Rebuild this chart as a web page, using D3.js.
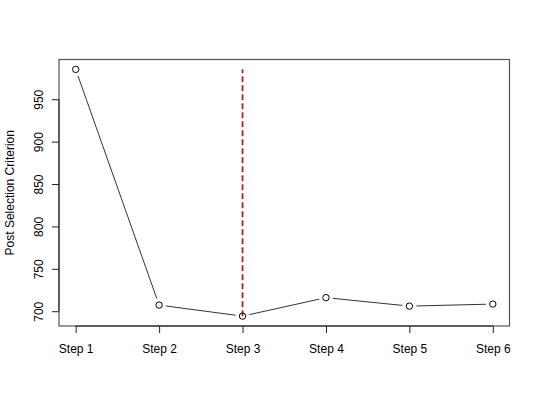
<!DOCTYPE html>
<html>
<head>
<meta charset="utf-8">
<script src="https://cdn.jsdelivr.net/npm/d3@7"></script>
<style>
  html, body { margin: 0; padding: 0; background: #fff; }
  svg { display: block; }
  text { font-family: "Liberation Sans", Arial, sans-serif; }
</style>
</head>
<body>
<svg id="chart" width="540" height="400"></svg>
<script>
const categories = ["Step 1", "Step 2", "Step 3", "Step 4", "Step 5", "Step 6"];
const values = [985.2, 707.2, 694.2, 716.0, 706.0, 708.4];
const yTicks = [700, 750, 800, 850, 900, 950];
const selectedStep = 3;
const yTitle = "Post Selection Criterion";

const svg = d3.select("#chart");
const plot = { left: 59, right: 509.5, top: 59.5, bottom: 326 };

const idx = d3.range(1, categories.length + 1);
const xPad = (idx.length - 1) * 0.04;
const x = d3.scaleLinear()
  .domain([1 - xPad, idx.length + xPad])
  .range([plot.left, plot.right]);

const yMin = d3.min(values), yMax = d3.max(values);
const yPad = (yMax - yMin) * 0.04;
const y = d3.scaleLinear()
  .domain([yMin - yPad, yMax + yPad])
  .range([plot.bottom, plot.top]);

const ink = "#222";

// Box
svg.append("rect")
  .attr("x", plot.left).attr("y", plot.top)
  .attr("width", plot.right - plot.left).attr("height", plot.bottom - plot.top)
  .attr("fill", "none").attr("stroke", "#555").attr("stroke-width", 1.2);

// Y axis
const yAxis = d3.axisLeft(y).tickValues(yTicks).tickSize(7).tickPadding(5);
const gy = svg.append("g").attr("transform", `translate(${plot.left},0)`).call(yAxis);
gy.select(".domain").attr("d", `M0,${y(yTicks[0])}V${y(yTicks[yTicks.length-1])}`).attr("stroke", ink);
gy.selectAll(".tick line").attr("stroke", ink);
gy.selectAll(".tick text")
  .attr("font-size", 12).attr("fill", "#000")
  .attr("x", null).attr("dy", null)
  .attr("text-anchor", "middle")
  .attr("transform", `translate(-16,0) rotate(-90)`)
  .attr("y", 0);

// X axis
const xAxis = d3.axisBottom(x).tickValues(idx).tickFormat(i => categories[i - 1]).tickSize(7).tickPadding(11);
const gx = svg.append("g").attr("transform", `translate(0,${plot.bottom})`).call(xAxis);
gx.select(".domain").attr("d", `M${x(1)},0H${x(idx.length)}`).attr("stroke", ink);
gx.selectAll(".tick line").attr("stroke", ink);
gx.selectAll(".tick text").attr("font-size", 12).attr("fill", "#000");

// Y title
svg.append("text")
  .attr("transform", `translate(14,${(plot.top + plot.bottom) / 2}) rotate(-90)`)
  .attr("text-anchor", "middle")
  .attr("font-size", 12)
  .text(yTitle);

// Red dashed selection line
svg.append("line")
  .attr("x1", x(selectedStep)).attr("x2", x(selectedStep))
  .attr("y1", y(yMin)).attr("y2", y(yMax))
  .attr("stroke", "#b22222").attr("stroke-width", 1.8)
  .attr("stroke-dasharray", "6,3");

// Line segments with gaps (type = "b")
const pts = values.map((v, i) => [x(i + 1), y(v)]);
const gap = 7;
for (let i = 0; i < pts.length - 1; i++) {
  const [x1, y1] = pts[i], [x2, y2] = pts[i + 1];
  const dx = x2 - x1, dy = y2 - y1, len = Math.hypot(dx, dy);
  if (len <= 2 * gap) continue;
  const ux = dx / len, uy = dy / len;
  svg.append("line")
    .attr("x1", x1 + ux * gap).attr("y1", y1 + uy * gap)
    .attr("x2", x2 - ux * gap).attr("y2", y2 - uy * gap)
    .attr("stroke", "#333").attr("stroke-width", 1);
}

// Points
svg.selectAll("circle.pt").data(values).enter().append("circle")
  .attr("class", "pt")
  .attr("cx", (d, i) => x(i + 1)).attr("cy", d => y(d))
  .attr("r", 3.2)
  .attr("fill", "none").attr("stroke", "#000").attr("stroke-width", 1);
</script>
</body>
</html>
